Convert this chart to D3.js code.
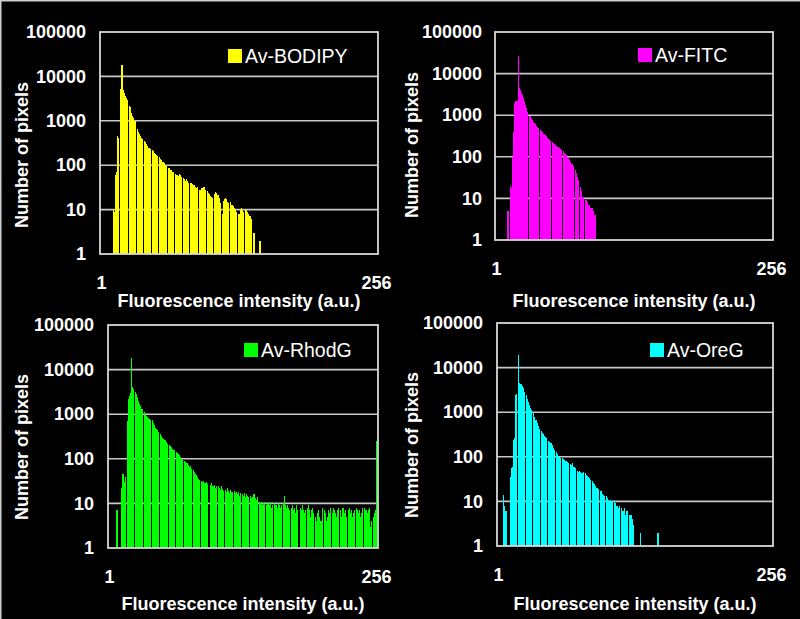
<!DOCTYPE html>
<html><head><meta charset="utf-8">
<script src="https://cdn.jsdelivr.net/npm/d3@7"></script>
<style>body{margin:0;background:#000;} svg{display:block;}</style>
</head><body><svg id="c" width="800" height="619"></svg>
<script>
// Intensity categories 1..256
const intensities = d3.range(1, 257);
const yTicks = [1, 10, 100, 1000, 10000, 100000];
const xTickLabels = [1, 256];

const bodipy = [
0,0,0,0,0,0,0,0,0,0,0,10,9,60,70,450,
420,0,5200,17800,5000,4200,3600,3300,3000,0,2200,2000,1500,1300,1150,1000,
0,650,560,500,450,420,390,0,360,330,300,270,250,230,0,215,
205,190,180,170,160,0,150,140,130,120,110,100,95,0,88,85,
80,78,72,70,0,62,60,58,65,60,55,0,52,48,45,50,
44,40,0,40,38,36,35,33,30,32,0,28,27,30,31,32,
28,0,26,24,22,20,19,18,0,22,25,24,21,18,14,0,
8,16,17,18,17,15,14,0,15,13,12,11,10,9,0,8,
8,10,11,10,9,0,10,9,8,7,7,6,0,3,3,0,
0,0,0,2,0,0,0,0,0,0,0,0,0,0,0,0,
0,0,0,0,0,0,0,0,0,0,0,0,0,0,0,0,
0,0,0,0,0,0,0,0,0,0,0,0,0,0,0,0,
0,0,0,0,0,0,0,0,0,0,0,0,0,0,0,0,
0,0,0,0,0,0,0,0,0,0,0,0,0,0,0,0,
0,0,0,0,0,0,0,0,0,0,0,0,0,0,0,0,
0,0,0,0,0,0,0,0,0,0,0,0,0,0,0,0];

const fitc = [
0,0,0,0,0,0,0,0,0,0,5,5,0,20,18,100,
400,2000,2150,2200,26000,4500,4000,3500,3000,2600,2200,1800,1500,1200,0,950,
850,780,700,650,600,560,520,480,0,450,420,390,360,330,310,290,
270,250,240,0,230,215,200,190,180,170,160,155,148,0,135,125,
115,108,100,93,85,75,68,60,0,49,40,33,28,0,19,15,
11,10,0,9,8,7,7,6,6,6,5,4,4,0,0,0,
0,0,0,0,0,0,0,0,0,0,0,0,0,0,0,0,
0,0,0,0,0,0,0,0,0,0,0,0,0,0,0,0,
0,0,0,0,0,0,0,0,0,0,0,0,0,0,0,0,
0,0,0,0,0,0,0,0,0,0,0,0,0,0,0,0,
0,0,0,0,0,0,0,0,0,0,0,0,0,0,0,0,
0,0,0,0,0,0,0,0,0,0,0,0,0,0,0,0,
0,0,0,0,0,0,0,0,0,0,0,0,0,0,0,0,
0,0,0,0,0,0,0,0,0,0,0,0,0,0,0,0,
0,0,0,0,0,0,0,0,0,0,0,0,0,0,0,0,
0,0,0,0,0,0,0,0,0,0,0,0,0,0,0,0];

const rhodg = [
0,0,0,0,0,0,0,7,7,0,0,22,45,45,30,40,
0,700,2200,2500,3000,18000,4000,3600,0,3200,2800,2400,2000,1700,1500,1300,
0,1100,950,900,850,820,780,760,0,740,650,560,500,460,440,400,
0,360,330,300,280,260,240,220,0,200,190,180,170,160,155,0,
140,135,130,120,110,100,95,0,90,85,80,72,65,70,60,0,
55,50,45,43,40,36,34,0,32,30,31,29,28,30,27,0,
26,28,25,24,26,22,25,0,24,22,20,25,21,19,0,20,
18,22,19,17,20,18,0,19,17,18,16,18,15,17,0,16,
15,17,14,16,15,14,0,15,13,14,16,13,12,14,0,11,
10,11,9,10,11,0,9,10,11,9,10,8,9,0,10,9,
8,10,9,8,9,0,10,15,9,8,9,8,7,0,8,9,
7,8,6,9,7,0,8,7,9,7,6,7,0,8,9,7,
5,7,8,6,0,5,4,6,7,5,4,8,0,7,6,4,
5,7,6,8,0,6,8,7,6,5,7,8,0,7,5,8,
6,7,5,0,7,8,6,7,5,6,7,0,8,7,6,7,
5,6,8,0,8,7,6,7,8,3,4,0,5,6,7,250];

const oreg = [
0,0,0,0,0,14,8,6,0,0,0,36,56,60,240,260,
2400,2500,0,19500,4600,4200,3800,3400,2900,0,2400,2000,1700,1450,1250,1100,
0,950,800,680,580,500,430,0,370,340,320,300,280,260,0,230,
215,200,180,160,145,0,130,115,105,100,95,0,93,88,85,80,
75,72,0,70,66,72,60,58,56,0,48,46,47,45,44,46,
0,44,40,38,36,34,30,0,28,26,24,22,20,19,0,17,
17,15,14,13,0,13,12,11,10,11,10,0,10,9,8,8,
7,8,0,7,6,6,7,5,6,0,5,5,5,4,3,0,
0,0,0,0,0,2,0,0,0,0,0,0,0,0,0,0,
0,0,0,0,0,2,0,0,0,0,0,0,0,0,0,0,
0,0,0,0,0,0,0,0,0,0,0,0,0,0,0,0,
0,0,0,0,0,0,0,0,0,0,0,0,0,0,0,0,
0,0,0,0,0,0,0,0,0,0,0,0,0,0,0,0,
0,0,0,0,0,0,0,0,0,0,0,0,0,0,0,0,
0,0,0,0,0,0,0,0,0,0,0,0,0,0,0,0,
0,0,0,0,0,0,0,0,0,0,0,0,0,0,0,0];

const seriesNames = ["Av-BODIPY", "Av-FITC", "Av-RhodG", "Av-OreG"];
const seriesColors = ["#ffff00", "#ff00ff", "#00ff00", "#00ffff"];
const seriesValues = [bodipy, fitc, rhodg, oreg];
const yTitle = "Number of pixels";
const xTitle = "Fluorescence intensity (a.u.)";

// layout (pixels)
const layout = [
  {x0:100, x1:378, y0:32, y1:254, ylab:86, ytx:22, yty:155, xtitleY:307, leg:[228,49]},
  {x0:495, x1:773, y0:32, y1:240, ylab:482, ytx:412, yty:145, xtitleY:307, leg:[638,48]},
  {x0:108, x1:378, y0:325, y1:548, ylab:94, ytx:22, yty:447, xtitleY:610, leg:[244,343]},
  {x0:497, x1:773, y0:323, y1:546, ylab:483, ytx:412, yty:445, xtitleY:610, leg:[650,343]}
];

const FONT = "'Liberation Sans', Arial, Helvetica, sans-serif";
const svg = d3.select("#c");
svg.append("rect").attr("width",800).attr("height",619).attr("fill","#000");
svg.append("path").attr("d","M0.75,619V0.75H800").attr("fill","none").attr("stroke","#cfcfcf").attr("stroke-width",1.5);

layout.forEach((L, k) => {
  const vals = seriesValues[k];
  const color = seriesColors[k];
  const g = svg.append("g");
  // bars live just inside the frame
  const xs = d3.scaleLinear().domain([1, 257]).range([L.x0 + 1, L.x1 - 1]);
  const ys = d3.scaleLog().domain([1, 100000]).range([L.y1, L.y0]);

  // gridlines
  g.append("g").selectAll("line").data(yTicks.slice(1, -1)).join("line")
    .attr("x1", L.x0).attr("x2", L.x1)
    .attr("y1", d => ys(d)).attr("y2", d => ys(d))
    .attr("stroke", "#c8c8c8").attr("stroke-width", 1.6);

  // bars
  const data = intensities.map((b, i) => ({b, v: vals[i]})).filter(d => d.v > 0);
  g.append("g").selectAll("rect").data(data).join("rect")
    .attr("x", d => xs(d.b))
    .attr("width", d => xs(d.b + 1) - xs(d.b))
    .attr("y", d => ys(Math.max(d.v, 1)))
    .attr("height", d => ys(1) - ys(Math.max(d.v, 1)))
    .attr("fill", color)
    .attr("shape-rendering", "crispEdges");

  // frame
  g.append("rect").attr("x", L.x0).attr("y", L.y0)
    .attr("width", L.x1 - L.x0).attr("height", L.y1 - L.y0)
    .attr("fill", "none").attr("stroke", "#d8d8d8").attr("stroke-width", 1.8);

  // y axis
  const ya = g.append("g").attr("transform", `translate(${L.x0},0)`)
    .call(d3.axisLeft(ys).tickValues(yTicks).tickFormat(d3.format("d")).tickSize(0).tickPadding(L.x0 - L.ylab));
  ya.select(".domain").remove();
  ya.selectAll("text").attr("fill", "#fff").style("font-family", FONT).style("font-size", "18px").style("font-weight", "bold");

  // x axis
  const xa = g.append("g").attr("transform", `translate(0,${L.y1})`)
    .call(d3.axisBottom(xs).tickValues(xTickLabels).tickFormat(d3.format("d")).tickSize(0).tickPadding(22));
  xa.select(".domain").remove();
  xa.selectAll("text").attr("fill", "#fff").style("font-family", FONT).style("font-size", "18px").style("font-weight", "bold");

  // titles
  g.append("text").attr("x", (L.x0 + L.x1) / 2).attr("y", L.xtitleY)
    .attr("text-anchor", "middle").attr("fill", "#fff")
    .style("font-family", FONT).style("font-size", "18px").style("font-weight", "bold")
    .text(xTitle);
  g.append("text").attr("transform", `translate(${L.ytx},${L.yty}) rotate(-90)`)
    .attr("text-anchor", "middle").attr("dy", "0.35em").attr("fill", "#fff")
    .style("font-family", FONT).style("font-size", "18px").style("font-weight", "bold")
    .text(yTitle);

  // legend
  g.append("rect").attr("x", L.leg[0]).attr("y", L.leg[1]).attr("width", 14).attr("height", 14).attr("fill", color);
  g.append("text").attr("x", L.leg[0] + 17).attr("y", L.leg[1] + 14)
    .attr("fill", "#fff").style("font-family", FONT).style("font-size", "19.5px")
    .text(seriesNames[k]);
});
</script>
</body></html>
